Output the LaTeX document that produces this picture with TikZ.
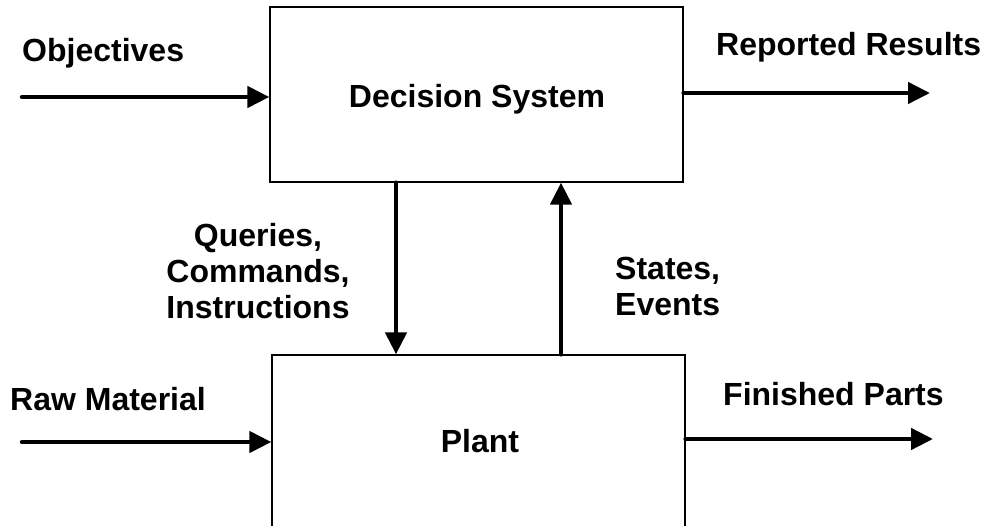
\documentclass[tikz,border=0pt]{standalone}
\usepackage{fontspec}
\setmainfont{Liberation Sans}
\usetikzlibrary{arrows.meta}
\begin{document}
\begin{tikzpicture}[x=1pt,y=-1pt,
  block/.style={draw, line width=1.3pt, rectangle, inner sep=0pt},
  flow/.style={line width=4.5pt, line cap=round, -{Triangle[length=22pt,width=21pt]}},
  lbl/.style={font=\fontsize{32}{36}\selectfont\bfseries, inner sep=0pt}]
\useasboundingbox (0,0) rectangle (990,526);
\clip (0,0) rectangle (990,526);
\fill[white] (0,0) rectangle (990,526);

% the two blocks
\node[block, minimum width=413pt, minimum height=175pt] (ds) at (476.5,94.5) {};
\node[block, minimum width=413pt, minimum height=370pt] (pl) at (478.5,540) {};
\node[lbl, anchor=base] (dslbl) at (477,108) {Decision System};
\node[lbl, anchor=base] (pllbl) at (480,452) {Plant};

% free ends of the outer flows
\coordinate (objin) at (22,97);
\coordinate (repout) at (930,93);
\coordinate (rawin) at (22,442);
\coordinate (finout) at (933,439);
\coordinate (qx) at (396,0);
\coordinate (sx) at (561,0);

% flows
\draw[flow] (objin) -- (objin -| ds.west);
\draw[flow] (repout -| ds.east) -- (repout);
\draw[flow] (rawin) -- (rawin -| pl.west);
\draw[flow] (finout -| pl.east) -- (finout);
\draw[flow] (qx |- ds.south) -- (qx |- pl.north);
\draw[flow] (sx |- pl.north) -- (sx |- ds.south);

% flow labels
\node[lbl, anchor=base west] (objl) at (22,62) {Objectives};
\node[lbl, anchor=base west] (repl) at (716,56) {Reported Results};
\node[lbl, anchor=base west] (rawl) at (10,410) {Raw Material};
\node[lbl, anchor=base west] (finl) at (723,405) {Finished Parts};
\node[lbl, align=center, anchor=north] (ql) at (258,223) {Queries,\\Commands,\\Instructions};
\node[lbl, align=left, anchor=north west] (sl) at (615,257) {States,\\Events};
\end{tikzpicture}
\end{document}
